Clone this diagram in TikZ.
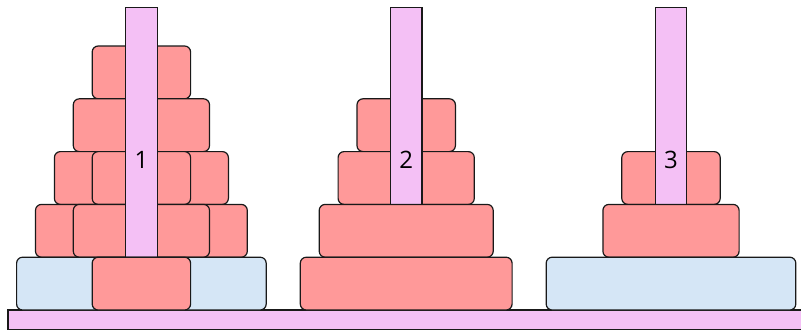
\documentclass[tikz,border=0pt]{standalone}
\usepackage{fontspec}
\setmainfont{Open Sans}
\definecolor{discred}{RGB}{255,153,153}
\definecolor{discblue}{RGB}{213,230,246}
\definecolor{pegpink}{RGB}{244,192,245}
\newcommand{\hanoidisc}[4]{\draw[#4] ({#1-#2},{#3}) rectangle ({#1+#2},{#3+52.8});}
\begin{document}
\begin{tikzpicture}[x=1pt,y=-1pt,line width=1.2pt,
  reddisc/.style={draw=black!90,fill=discred,rounded corners=6pt},
  bluedisc/.style={draw=black!90,fill=discblue,rounded corners=6pt},
  pegbar/.style={draw=black!90,fill=pegpink},
  baseplate/.style={draw=black!90,fill=pegpink},
  peglabel/.style={font=\fontsize{24}{24}\selectfont,anchor=base,inner sep=0pt}]
\useasboundingbox (0,0) rectangle (801,330);
% base
\draw[baseplate] (8,310) rectangle (815,329.5);
% peg 1 (center 141.4)
\hanoidisc{141.4}{49.2}{46}{reddisc}
\hanoidisc{141.4}{68.1}{98.8}{reddisc}
\hanoidisc{141.4}{87}{151.6}{reddisc}
\hanoidisc{141.4}{49.2}{151.6}{reddisc}
\hanoidisc{141.4}{105.9}{204.4}{reddisc}
\hanoidisc{141.4}{68.1}{204.4}{reddisc}
\draw[pegbar] (125.6,257.2) -- (125.6,7.3) -- (157.2,7.3) -- (157.2,257.2);
\hanoidisc{141.4}{124.8}{257.2}{bluedisc}
\hanoidisc{141.4}{49.2}{257.2}{reddisc}
\node[peglabel] (l1) at (141.4,168) {1};
% peg 2 (center 406.2)
\hanoidisc{406.2}{49.2}{98.8}{reddisc}
\hanoidisc{406.2}{68.1}{151.6}{reddisc}
\draw[pegbar] (390.4,204.4) -- (390.4,7.3) -- (422,7.3) -- (422,204.4);
\hanoidisc{406.2}{87}{204.4}{reddisc}
\hanoidisc{406.2}{105.9}{257.2}{reddisc}
\node[peglabel] (l2) at (406.2,168) {2};
% peg 3 (center 671)
\hanoidisc{671}{49.2}{151.6}{reddisc}
\draw[pegbar] (655.2,204.4) -- (655.2,7.3) -- (686.8,7.3) -- (686.8,204.4);
\hanoidisc{671}{68.1}{204.4}{reddisc}
\hanoidisc{671}{124.8}{257.2}{bluedisc}
\node[peglabel] (l3) at (671,168) {3};
\end{tikzpicture}
\end{document}
